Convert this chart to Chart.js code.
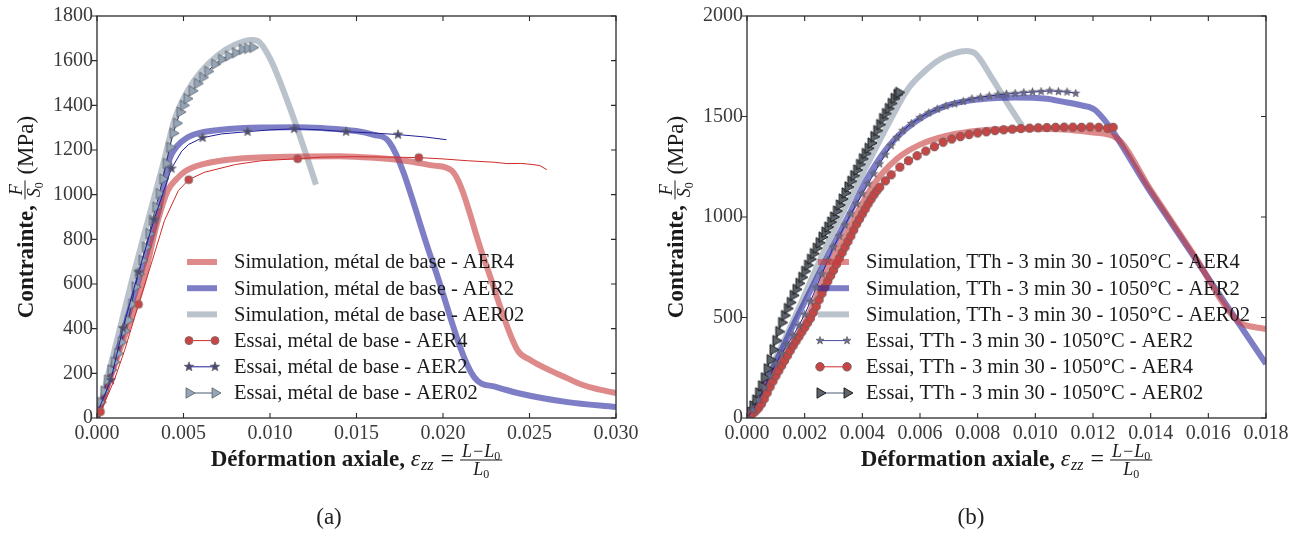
<!DOCTYPE html>
<html>
<head>
<meta charset="utf-8">
<script src="https://cdn.jsdelivr.net/npm/chart.js@4.4.1/dist/chart.umd.min.js"></script>
<style>
  body { margin: 0; background: #fff; width: 1303px; height: 533px; overflow: hidden; position: relative; }
  #wa { position: absolute; left: 0; top: 0; width: 650px; height: 533px; }
  #wb { position: absolute; left: 650px; top: 0; width: 653px; height: 533px; }
  .cap { position: absolute; top: 504px; font: 23px "Liberation Serif", serif; color: #222; transform: translateX(-50%); }
</style>
</head>
<body>
<div id="wa"><canvas id="ca" width="650" height="533"></canvas></div>
<div id="wb"><canvas id="cb" width="653" height="533"></canvas></div>
<div class="cap" style="left:329px">(a)</div>
<div class="cap" style="left:971px">(b)</div>
<script>
// ---------- (a) métal de base ----------
const xTicksA = [0, 0.005, 0.010, 0.015, 0.020, 0.025, 0.030]
const yTicksA = [0, 200, 400, 600, 800, 1000, 1200, 1400, 1600, 1800]

const simA4Strain = [0, 0.0012, 0.0026, 0.0035, 0.0041, 0.0046, 0.0051, 0.0062, 0.0080, 0.0110, 0.0140, 0.0160, 0.0180, 0.0195, 0.0205, 0.0224, 0.0243, 0.0250, 0.0260, 0.0270, 0.0280, 0.0290, 0.0300]
const simA4Stress = [0, 280, 590, 880, 1020, 1070, 1105, 1138, 1160, 1170, 1172, 1165, 1150, 1130, 1108, 706, 304, 262, 220, 185, 150, 128, 112]

const simA2Strain = [0, 0.0012, 0.0023, 0.0036, 0.0042, 0.0046, 0.0052, 0.0060, 0.0076, 0.0095, 0.0115, 0.0130, 0.0150, 0.0160, 0.0169, 0.0194, 0.0218, 0.0230, 0.0243, 0.0272, 0.0300]
const simA2Stress = [0, 300, 590, 940, 1160, 1215, 1255, 1278, 1294, 1301, 1302, 1298, 1285, 1268, 1235, 698, 183, 140, 112, 71, 49]

const simA02Strain = [0, 0.0010, 0.0020, 0.0030, 0.0038, 0.0045, 0.0052, 0.0060, 0.0070, 0.0080, 0.0089, 0.0093, 0.0100, 0.0110, 0.0120, 0.01266]
const simA02Stress = [0, 300, 610, 900, 1130, 1340, 1460, 1550, 1625, 1672, 1693, 1688, 1610, 1420, 1200, 1045]

const testA4Strain = [0, 0.0002, 0.0005, 0.0010, 0.0016, 0.0024, 0.0032, 0.0039, 0.0047, 0.0053, 0.0062, 0.0080, 0.0095, 0.0116, 0.0130, 0.0150, 0.0170, 0.0186, 0.0200, 0.0214, 0.0230, 0.0237, 0.0245, 0.0252, 0.0256, 0.0260]
const testA4Stress = [5, 28, 80, 170, 304, 509, 706, 884, 1018, 1067, 1100, 1135, 1152, 1161, 1168, 1170, 1168, 1166, 1160, 1152, 1145, 1139, 1140, 1135, 1130, 1112]
const testA4Marked = [1, 5, 9, 13, 17]

const testA2Strain = [0, 0.0008, 0.0015, 0.0024, 0.0033, 0.0043, 0.0049, 0.0053, 0.0061, 0.0072, 0.0087, 0.0100, 0.0114, 0.0130, 0.0144, 0.0160, 0.0174, 0.0190, 0.0202]
const testA2Stress = [20, 170, 402, 653, 889, 1117, 1195, 1225, 1255, 1272, 1282, 1290, 1295, 1290, 1282, 1276, 1269, 1258, 1246]
const testA2Marked = [1, 2, 3, 4, 5, 8, 10, 12, 14, 16]

const testA02Strain = [0, 0.0002, 0.0004, 0.0006, 0.0008, 0.0010, 0.0012, 0.0014, 0.0016, 0.0018, 0.0020, 0.0022, 0.0024, 0.0026, 0.0028, 0.0030, 0.0032, 0.0034, 0.0036, 0.0038, 0.0040, 0.0042, 0.0044, 0.0046, 0.0048, 0.0050, 0.0052, 0.0055, 0.0058, 0.0061, 0.0064, 0.0068, 0.0072, 0.0076, 0.0080, 0.0084, 0.0087, 0.0090]
const testA02Stress = [20, 70, 120, 170, 215, 250, 289, 340, 390, 438, 510, 587, 645, 706, 765, 825, 885, 944, 1005, 1070, 1140, 1212, 1275, 1320, 1370, 1400, 1430, 1465, 1498, 1525, 1552, 1584, 1606, 1622, 1636, 1651, 1655, 1659]

// ---------- (b) TTh - 3 min 30 - 1050°C ----------
const xTicksB = [0, 0.002, 0.004, 0.006, 0.008, 0.010, 0.012, 0.014, 0.016, 0.018]
const yTicksB = [0, 500, 1000, 1500, 2000]

const simB4Strain = [0, 0.0010, 0.0021, 0.0028, 0.0035, 0.0044, 0.0052, 0.0060, 0.0069, 0.0081, 0.0097, 0.0110, 0.0120, 0.0128, 0.0140, 0.0155, 0.0170, 0.0180]
const simB4Stress = [0, 240, 500, 740, 933, 1164, 1290, 1360, 1403, 1430, 1439, 1435, 1420, 1395, 1135, 811, 486, 442]

const simB2Strain = [0, 0.0009, 0.0017, 0.0025, 0.0029, 0.0035, 0.0042, 0.0049, 0.0058, 0.0069, 0.0081, 0.0093, 0.0104, 0.0109, 0.0116, 0.0121, 0.0140, 0.0160, 0.0180]
const simB2Stress = [0, 250, 490, 720, 834, 1000, 1200, 1350, 1470, 1553, 1586, 1595, 1588, 1575, 1555, 1529, 1123, 696, 269]

const simB02Strain = [0, 0.0014, 0.0028, 0.0041, 0.0050, 0.0056, 0.0062, 0.0067, 0.0072, 0.0076, 0.0079, 0.0085, 0.0091, 0.00954]
const simB02Stress = [0, 420, 870, 1240, 1490, 1640, 1730, 1785, 1815, 1826, 1815, 1690, 1550, 1454]

const testB2Strain = [0, 0.0002, 0.0004, 0.0006, 0.0008, 0.0010, 0.0012, 0.0014, 0.0016, 0.0018, 0.0020, 0.0022, 0.0024, 0.0026, 0.0028, 0.0030, 0.0032, 0.0034, 0.0036, 0.0038, 0.0040, 0.0042, 0.0044, 0.0046, 0.0048, 0.0050, 0.0052, 0.0054, 0.0057, 0.0060, 0.0063, 0.0066, 0.0069, 0.0072, 0.0075, 0.0078, 0.0081, 0.0084, 0.0087, 0.0090, 0.0093, 0.0096, 0.0099, 0.0102, 0.0105, 0.0108, 0.0111, 0.0114]
const testB2Stress = [0, 40, 90, 150, 210, 270, 320, 365, 410, 460, 515, 580, 648, 716, 784, 850, 905, 960, 1015, 1065, 1115, 1165, 1215, 1264, 1310, 1355, 1395, 1430, 1465, 1495, 1518, 1537, 1552, 1563, 1575, 1588, 1596, 1602, 1608, 1612, 1615, 1619, 1622, 1624, 1628, 1624, 1622, 1615]

const testB4Strain = [0, 0.0001, 0.0002, 0.0003, 0.0004, 0.0005, 0.0006, 0.0007, 0.0008, 0.0009, 0.0010, 0.0011, 0.0012, 0.0013, 0.0014, 0.0015, 0.0016, 0.0017, 0.0018, 0.0019, 0.0020, 0.0021, 0.0022, 0.0023, 0.0024, 0.0025, 0.0026, 0.0027, 0.0028, 0.0029, 0.0030, 0.0031, 0.0032, 0.0033, 0.0034, 0.0035, 0.0036, 0.0037, 0.0038, 0.0039, 0.0040, 0.0041, 0.0042, 0.0043, 0.0044, 0.0045, 0.0046, 0.0048, 0.0050, 0.0053, 0.0056, 0.0059, 0.0062, 0.0065, 0.0068, 0.0071, 0.0074, 0.0077, 0.0080, 0.0083, 0.0086, 0.0089, 0.0092, 0.0095, 0.0098, 0.0101, 0.0104, 0.0107, 0.0110, 0.0113, 0.0116, 0.0119, 0.0122, 0.0125, 0.0127]
const testB4Stress = [5, 12, 23, 35, 50, 70, 95, 125, 155, 183, 210, 235, 260, 285, 310, 335, 360, 383, 405, 428, 450, 473, 496, 525, 555, 588, 620, 650, 680, 708, 735, 765, 795, 823, 850, 878, 905, 935, 965, 990, 1015, 1040, 1065, 1088, 1110, 1130, 1148, 1180, 1210, 1248, 1280, 1305, 1328, 1350, 1372, 1388, 1400, 1410, 1418, 1424, 1430, 1434, 1437, 1440, 1442, 1444, 1445, 1446, 1447, 1447, 1446, 1448, 1446, 1441, 1446]

const testB02Strain = [0, 0.0001, 0.0002, 0.0003, 0.0004, 0.0005, 0.0006, 0.0007, 0.0008, 0.0009, 0.0010, 0.0011, 0.0012, 0.0013, 0.0014, 0.0015, 0.0016, 0.0017, 0.0018, 0.0019, 0.0020, 0.0021, 0.0022, 0.0023, 0.0024, 0.0025, 0.0026, 0.0027, 0.0028, 0.0029, 0.0030, 0.0031, 0.0032, 0.0033, 0.0034, 0.0035, 0.0036, 0.0037, 0.0038, 0.0039, 0.0040, 0.0041, 0.0042, 0.0043, 0.0044, 0.0045, 0.0046, 0.0047, 0.0048, 0.0049, 0.0050, 0.0051, 0.0052, 0.00526]
const testB02Stress = [0, 30, 60, 90, 125, 160, 200, 245, 290, 340, 385, 430, 475, 510, 545, 575, 610, 640, 670, 700, 730, 760, 790, 818, 845, 872, 900, 925, 950, 975, 1000, 1030, 1060, 1090, 1120, 1150, 1178, 1206, 1234, 1262, 1290, 1316, 1342, 1368, 1400, 1430, 1460, 1490, 1515, 1540, 1565, 1590, 1610, 1620]

const legendA = [
    'Simulation, métal de base - AER4',
    'Simulation, métal de base - AER2',
    'Simulation, métal de base - AER02',
    'Essai, métal de base - AER4',
    'Essai, métal de base - AER2',
    'Essai, métal de base - AER02'
]
const legendB = [
    'Simulation, TTh - 3 min 30 - 1050°C - AER4',
    'Simulation, TTh - 3 min 30 - 1050°C - AER2',
    'Simulation, TTh - 3 min 30 - 1050°C - AER02',
    'Essai, TTh - 3 min 30 - 1050°C - AER2',
    'Essai, TTh - 3 min 30 - 1050°C - AER4',
    'Essai, TTh - 3 min 30 - 1050°C - AER02'
]

const SERIF = '"Liberation Serif", "Times New Roman", serif'
const PINK = 'rgba(200, 60, 60, 0.6)'
const LAV = 'rgba(40, 40, 160, 0.6)'
const GREY = 'rgba(140, 155, 170, 0.6)'

// marker shapes
const circlePath = (g, x, y, r) => { g.beginPath(); g.arc(x, y, r, 0, Math.PI * 2) }
const starPath = (g, x, y, r) => {
    g.beginPath()
    for (let k = 0; k < 10; k++) {
        const rr = k % 2 ? r * 0.42 : r
        const a = -Math.PI / 2 + k * Math.PI / 5
        g.lineTo(x + rr * Math.cos(a), y + rr * Math.sin(a))
    }
    g.closePath()
}
const triPath = (g, x, y, r) => {
    g.beginPath()
    g.moveTo(x + r, y)
    g.lineTo(x - r / 2, y - r * 0.866)
    g.lineTo(x - r / 2, y + r * 0.866)
    g.closePath()
}

const makeMarker = m => {
    const s = Math.ceil(2 * m.r + 4)
    const c = document.createElement('canvas')
    c.width = c.height = s
    const g = c.getContext('2d')
    m.path(g, s / 2, s / 2, m.r)
    g.fillStyle = m.fill
    g.fill()
    g.lineWidth = m.lw
    g.strokeStyle = m.stroke
    g.stroke()
    return c
}

const mkCircleA = { path: circlePath, r: 4, fill: '#c84545', stroke: '#8a6a6a', lw: 1 }
const mkStarA = { path: starPath, r: 5, fill: '#4a4a78', stroke: '#666', lw: 0.7 }
const mkTriA = { path: triPath, r: 6, fill: '#95a6b8', stroke: '#5a6068', lw: 0.8 }
const mkCircleB = { path: circlePath, r: 4.2, fill: '#c84545', stroke: '#7a5a5a', lw: 1 }
const mkStarB = { path: starPath, r: 4.2, fill: '#6a6a90', stroke: '#555', lw: 0.6 }
const mkTriB = { path: triPath, r: 6, fill: '#5c646c', stroke: '#141414', lw: 0.9 }

const pts = (xs, ys) => xs.map((x, i) => ({ x, y: ys[i] }))
const marks = (n, idx, r) => {
    const a = new Array(n).fill(0)
    idx.forEach(i => { a[i] = r })
    return a
}

const simSet = (xs, ys, color) => ({
    data: pts(xs, ys),
    showLine: true,
    borderColor: color,
    borderWidth: 6,
    pointRadius: 0,
    cubicInterpolationMode: 'monotone',
    order: 2
})

const testSet = (xs, ys, color, mk, radius) => ({
    data: pts(xs, ys),
    showLine: true,
    borderColor: color,
    borderWidth: 1,
    pointStyle: makeMarker(mk),
    pointRadius: radius,
    order: 1
})

// frame with ticks: x ticks inward, left ticks outward, right ticks inward
const framePlugin = {
    id: 'frame',
    afterDatasetsDraw(chart) {
        const { ctx, chartArea: a, scales: { x, y } } = chart
        const L = 5
        ctx.save()
        ctx.strokeStyle = '#2a2a2a'
        ctx.lineWidth = 1.3
        ctx.strokeRect(a.left, a.top, a.right - a.left, a.bottom - a.top)
        ctx.lineWidth = 1.1
        ctx.beginPath()
        x.ticks.forEach(t => {
            const px = x.getPixelForValue(t.value)
            ctx.moveTo(px, a.bottom); ctx.lineTo(px, a.bottom - L)
            ctx.moveTo(px, a.top); ctx.lineTo(px, a.top + L)
        })
        y.ticks.forEach(t => {
            const py = y.getPixelForValue(t.value)
            ctx.moveTo(a.left, py); ctx.lineTo(a.left - L, py)
            ctx.moveTo(a.right, py); ctx.lineTo(a.right - L, py)
        })
        ctx.stroke()
        ctx.restore()
    }
}

const drawMarker = (ctx, mk, x, y) => {
    mk.path(ctx, x, y, mk.r)
    ctx.fillStyle = mk.fill
    ctx.fill()
    ctx.lineWidth = mk.lw
    ctx.strokeStyle = mk.stroke
    ctx.stroke()
}

const legendPlugin = {
    id: 'sheetLegend',
    afterDraw(chart, args, o) {
        const { ctx } = chart
        ctx.save()
        ctx.font = '20.5px ' + SERIF
        ctx.textBaseline = 'middle'
        o.items.forEach((it, i) => {
            const y = o.y0 + i * o.dy
            ctx.beginPath()
            ctx.moveTo(o.x1, y)
            ctx.lineTo(o.x2, y)
            ctx.strokeStyle = it.color
            ctx.lineWidth = it.width
            ctx.stroke()
            if (it.marker) {
                drawMarker(ctx, it.marker, o.x1 + 2, y)
                drawMarker(ctx, it.marker, o.x2 - 2, y)
            }
            ctx.fillStyle = '#1a1a1a'
            ctx.fillText(it.label, o.tx, y + 1)
        })
        ctx.restore()
    }
}

// axis titles with the little fractions
const FR = 18
const SUB = 12

const partWidth = (ctx, text, sub, size) => {
    ctx.font = 'italic ' + size + 'px ' + SERIF
    let w = ctx.measureText(text).width
    if (sub) {
        ctx.font = SUB + 'px ' + SERIF
        w += ctx.measureText(sub).width
    }
    return w
}

const fracWidth = (ctx, num, den) =>
    Math.max(partWidth(ctx, num[0], num[1], FR), partWidth(ctx, den[0], den[1], FR)) + 4

const drawPart = (ctx, text, sub, x, base, font, subFont) => {
    ctx.font = font
    ctx.fillText(text, x, base)
    let w = ctx.measureText(text).width
    if (sub) {
        ctx.font = subFont
        ctx.fillText(sub, x + w, base + 3)
        w += ctx.measureText(sub).width
    }
    return w
}

const drawFrac = (ctx, num, den, x, base) => {
    const w = fracWidth(ctx, num, den)
    const bar = base - 6
    const f = 'italic ' + FR + 'px ' + SERIF
    const sf = SUB + 'px ' + SERIF
    const nw = partWidth(ctx, num[0], num[1], FR)
    const dw = partWidth(ctx, den[0], den[1], FR)
    drawPart(ctx, num[0], num[1], x + (w - nw) / 2, bar - 3, f, sf)
    drawPart(ctx, den[0], den[1], x + (w - dw) / 2, bar + 15, f, sf)
    ctx.fillRect(x, bar - 0.5, w, 1)
    return w
}

const titlePlugin = {
    id: 'axisTitles',
    afterDraw(chart) {
        const { ctx, chartArea: a } = chart
        ctx.save()
        ctx.fillStyle = '#1a1a1a'
        ctx.textBaseline = 'alphabetic'

        // x title
        const bold = 'bold 23px ' + SERIF
        const t1 = 'Déformation axiale, '
        ctx.font = bold
        const w1 = ctx.measureText(t1).width
        ctx.font = 'italic 24px ' + SERIF
        const we = ctx.measureText('ε').width
        ctx.font = 'italic 16px ' + SERIF
        const wz = ctx.measureText('zz').width + 2
        ctx.font = '24px ' + SERIF
        const wq = ctx.measureText(' = ').width
        const num = ['L−L', '0']
        const den = ['L', '0']
        const wf = fracWidth(ctx, num, den)
        let x = (a.left + a.right) / 2 - (w1 + we + wz + wq + wf) / 2
        const base = 466
        x += drawPart(ctx, t1, null, x, base, bold)
        x += drawPart(ctx, 'ε', null, x, base, 'italic 24px ' + SERIF)
        ctx.font = 'italic 16px ' + SERIF
        ctx.fillText('zz', x + 1, base + 4)
        x += wz
        x += drawPart(ctx, ' = ', null, x, base, '24px ' + SERIF)
        drawFrac(ctx, num, den, x, base)

        // y title, rotated
        ctx.translate(a.left - 64, (a.top + a.bottom) / 2)
        ctx.rotate(-Math.PI / 2)
        const c1 = 'Contrainte, '
        const c3 = ' (MPa)'
        ctx.font = bold
        const v1 = ctx.measureText(c1).width
        ctx.font = '23px ' + SERIF
        const v3 = ctx.measureText(c3).width
        const vf = fracWidth(ctx, ['F', null], ['S', '0'])
        let u = -(v1 + vf + v3) / 2
        u += drawPart(ctx, c1, null, u, 0, bold)
        u += drawFrac(ctx, ['F', null], ['S', '0'], u, -2)
        drawPart(ctx, c3, null, u, 0, '23px ' + SERIF)
        ctx.restore()
    }
}

const makeOptions = (xMax, yMax, xTicks, yTicks, padRight, legend) => ({
    responsive: false,
    animation: false,
    events: [],
    layout: { padding: { top: 15, right: padRight, left: 0, bottom: 0 } },
    plugins: {
        legend: { display: false },
        tooltip: { enabled: false },
        sheetLegend: legend
    },
    scales: {
        x: {
            type: 'linear',
            min: 0,
            max: xMax,
            afterBuildTicks: s => { s.ticks = xTicks.map(v => ({ value: v })) },
            afterFit: s => { s.height = 115 },
            grid: { display: false, drawTicks: false },
            border: { display: false },
            ticks: {
                callback: v => v.toFixed(3),
                font: { family: SERIF, size: 20 },
                color: '#3a3a3a',
                padding: 4,
                maxRotation: 0,
                autoSkip: false
            }
        },
        y: {
            type: 'linear',
            min: 0,
            max: yMax,
            afterBuildTicks: s => { s.ticks = yTicks.map(v => ({ value: v })) },
            afterFit: s => { s.width = 97 },
            grid: { display: false, drawTicks: false },
            border: { display: false },
            ticks: {
                callback: v => String(v),
                font: { family: SERIF, size: 20 },
                color: '#3a3a3a',
                padding: 4,
                autoSkip: false
            }
        }
    }
})

new Chart(document.getElementById('ca'), {
    type: 'scatter',
    data: {
        datasets: [
            testSet(testA4Strain, testA4Stress, '#d02a2a', mkCircleA, marks(testA4Strain.length, testA4Marked, 4)),
            testSet(testA2Strain, testA2Stress, '#1e1e9a', mkStarA, marks(testA2Strain.length, testA2Marked, 5)),
            testSet(testA02Strain, testA02Stress, '#2a3a55', mkTriA, 6),
            simSet(simA4Strain, simA4Stress, PINK),
            simSet(simA2Strain, simA2Stress, LAV),
            simSet(simA02Strain, simA02Stress, GREY)
        ]
    },
    options: makeOptions(0.030, 1800, xTicksA, yTicksA, 34, {
        x1: 187, x2: 217, tx: 234, y0: 262, dy: 26.2,
        items: [
            { label: legendA[0], color: PINK, width: 6 },
            { label: legendA[1], color: LAV, width: 6 },
            { label: legendA[2], color: GREY, width: 6 },
            { label: legendA[3], color: '#d02a2a', width: 1, marker: mkCircleA },
            { label: legendA[4], color: '#1e1e9a', width: 1, marker: mkStarA },
            { label: legendA[5], color: '#4a5a75', width: 1, marker: mkTriA }
        ]
    }),
    plugins: [framePlugin, legendPlugin, titlePlugin]
})

new Chart(document.getElementById('cb'), {
    type: 'scatter',
    data: {
        datasets: [
            testSet(testB2Strain, testB2Stress, '#1e1e9a', mkStarB, 4.2),
            testSet(testB4Strain, testB4Stress, '#d02a2a', mkCircleB, 4.2),
            testSet(testB02Strain, testB02Stress, '#222', mkTriB, 6),
            simSet(simB4Strain, simB4Stress, PINK),
            simSet(simB2Strain, simB2Stress, LAV),
            simSet(simB02Strain, simB02Stress, GREY)
        ]
    },
    options: makeOptions(0.018, 2000, xTicksB, yTicksB, 37, {
        x1: 168, x2: 199, tx: 216, y0: 262, dy: 26.2,
        items: [
            { label: legendB[0], color: PINK, width: 6 },
            { label: legendB[1], color: LAV, width: 6 },
            { label: legendB[2], color: GREY, width: 6 },
            { label: legendB[3], color: '#4a4aa0', width: 1, marker: mkStarB },
            { label: legendB[4], color: '#d02a2a', width: 1, marker: mkCircleB },
            { label: legendB[5], color: '#4a5a75', width: 1, marker: mkTriB }
        ]
    }),
    plugins: [framePlugin, legendPlugin, titlePlugin]
})
</script>
</body>
</html>
